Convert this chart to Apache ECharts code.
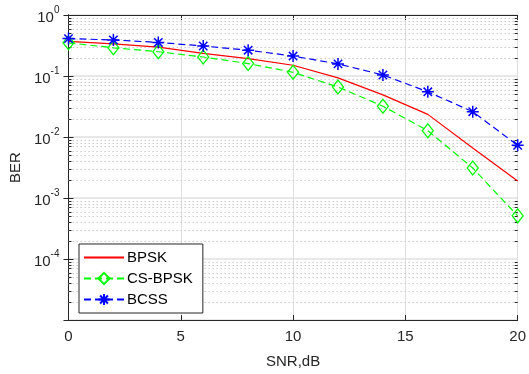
<!DOCTYPE html>
<html><head><meta charset="utf-8">
<script src="https://cdn.jsdelivr.net/npm/echarts@6/dist/echarts.min.js"></script>
<style>html,body{margin:0;padding:0;background:#fff}#c{width:529px;height:374px}</style>
</head><body><div id="c"></div>
<script>
const snr = [0, 2, 4, 6, 8, 10, 12, 14, 16, 18, 20];
const bpsk = [0.37, 0.337, 0.297, 0.235, 0.193, 0.15, 0.093, 0.049, 0.0235, 0.0066, 0.0019];
const csBpsk = [0.35, 0.29, 0.25, 0.205, 0.16, 0.115, 0.066, 0.032, 0.0127, 0.0031, 0.00051];
const bcss = [0.41, 0.39, 0.355, 0.31, 0.265, 0.212, 0.158, 0.104, 0.055, 0.026, 0.0073];
const xTicks = [0, 5, 10, 15, 20];
const yExp = [0, -1, -2, -3, -4];
const seriesNames = ['BPSK', 'CS-BPSK', 'BCSS'];

const FONT = '"Liberation Sans", Arial, sans-serif';
const AX = '#262626';
const minorVals = [];
for (let e = -5; e < 0; e++) for (let m = 2; m <= 9; m++) minorVals.push(m * Math.pow(10, e));

const pair = arr => snr.map((x, i) => [x, arr[i]]);
const star = 'path://M0,-10L0,10M-10,0L10,0M-7,-7L7,7M-7,7L7,-7';

const chart = echarts.init(document.getElementById('c'), null, {renderer: 'canvas'});
const yAxisBase = {
  type: 'log', logBase: 10, min: 1e-5, max: 1,
  splitNumber: 5,
  axisLine: {show: true, lineStyle: {color: AX, width: 1}},
  axisTick: {show: true, inside: true, length: 5, lineStyle: {color: AX}},
  splitLine: {show: false}
};
const option = {
  animation: false,
  backgroundColor: '#fff',
  textStyle: {fontFamily: FONT},
  grid: {left: 67, right: 10, top: 15, bottom: 49, containLabel: false},
  xAxis: [{
    type: 'value', min: 0, max: 20, interval: 5,
    name: 'SNR,dB', nameLocation: 'middle', nameGap: 34,
    nameTextStyle: {fontSize: 15, color: AX, fontFamily: FONT},
    axisLine: {show: true, onZero: false, lineStyle: {color: AX}},
    axisTick: {show: true, inside: true, length: 5, lineStyle: {color: AX}},
    axisLabel: {fontSize: 15, color: AX, margin: 9, fontFamily: FONT,
      formatter: v => xTicks.includes(v) ? String(v) : ''},
    splitLine: {show: true, lineStyle: {color: '#dedede', width: 1}}
  }, {
    type: 'value', min: 0, max: 20, interval: 5, position: 'top',
    axisLine: {show: true, onZero: false, lineStyle: {color: AX}},
    axisTick: {show: true, inside: true, length: 5, lineStyle: {color: AX}},
    axisLabel: {show: false}, splitLine: {show: false}
  }],
  yAxis: [Object.assign({}, yAxisBase, {
    position: 'left',
    name: 'BER', nameLocation: 'middle', nameGap: 39, nameRotate: 90,
    nameTextStyle: {fontSize: 15, color: AX, fontFamily: FONT},
    axisLabel: {color: AX, margin: 9, fontFamily: FONT,
      formatter: v => {
        const e = Math.round(Math.log10(v));
        if (!yExp.includes(e)) return '';
        return '{b|10}{s|' + e + '}';
      },
      rich: {
        b: {fontSize: 15, color: AX, fontFamily: FONT, verticalAlign: 'bottom', lineHeight: 18},
        s: {fontSize: 10, color: AX, fontFamily: FONT, verticalAlign: 'top', lineHeight: 20, padding: [0, 0, 7, 0]}
      }
    },
    splitLine: {show: true, lineStyle: {color: '#e8e8e8', width: 2}}
  }), Object.assign({}, yAxisBase, {
    position: 'right', axisLabel: {show: false}
  })],
  legend: {
    orient: 'vertical', left: 79, top: 244,
    width: 124,
    backgroundColor: '#fff', borderColor: AX, borderWidth: 1,
    padding: [6, 10, 6, 4], itemGap: 6,
    itemWidth: 40, itemHeight: 14,
    textStyle: {fontSize: 15, color: '#000', fontFamily: FONT, padding: [0, 0, 0, -2]},
    data: [
      {name: seriesNames[0], itemStyle: {opacity: 0}},
      seriesNames[1], seriesNames[2]
    ]
  },
  series: [{
    name: '_minorgrid', type: 'custom', silent: true, z: 1,
    data: minorVals.map(v => [v]),
    encode: {y: 0},
    renderItem: (params, api) => {
      const v = api.value(0);
      const a = api.coord([0, v]);
      const b = api.coord([20, v]);
      const y = Math.round(a[1]) + 0.5;
      return {
        type: 'group', children: [
          {type: 'line', shape: {x1: a[0], y1: y, x2: b[0], y2: y},
            style: {stroke: '#cdcdcd', lineWidth: 1, lineDash: [1.5, 2.5]}},
          {type: 'line', shape: {x1: a[0], y1: y, x2: a[0] + 3, y2: y},
            style: {stroke: AX, lineWidth: 1}},
          {type: 'line', shape: {x1: b[0], y1: y, x2: b[0] - 3, y2: y},
            style: {stroke: AX, lineWidth: 1}}
        ]
      };
    }
  }, {
    name: seriesNames[0], type: 'line', data: pair(bpsk), z: 3,
    showSymbol: false, symbol: 'none',
    lineStyle: {color: '#ff0000', width: 1.2},
    itemStyle: {color: '#ff0000'}
  }, {
    name: seriesNames[1], type: 'line', data: pair(csBpsk), z: 3,
    symbol: 'diamond', symbolSize: [11, 14],
    lineStyle: {color: '#00ff00', width: 1.2, type: [7, 4]},
    itemStyle: {color: 'rgba(255,255,255,0)', borderColor: '#00ff00', borderWidth: 1.3}
  }, {
    name: seriesNames[2], type: 'line', data: pair(bcss), z: 3,
    symbol: star, symbolSize: 12,
    lineStyle: {color: '#0000ff', width: 1.2, type: [7, 4]},
    itemStyle: {color: '#0000ff', borderColor: '#0000ff', borderWidth: 1.5}
  }]
};
chart.setOption(option);
</script>
</body></html>
